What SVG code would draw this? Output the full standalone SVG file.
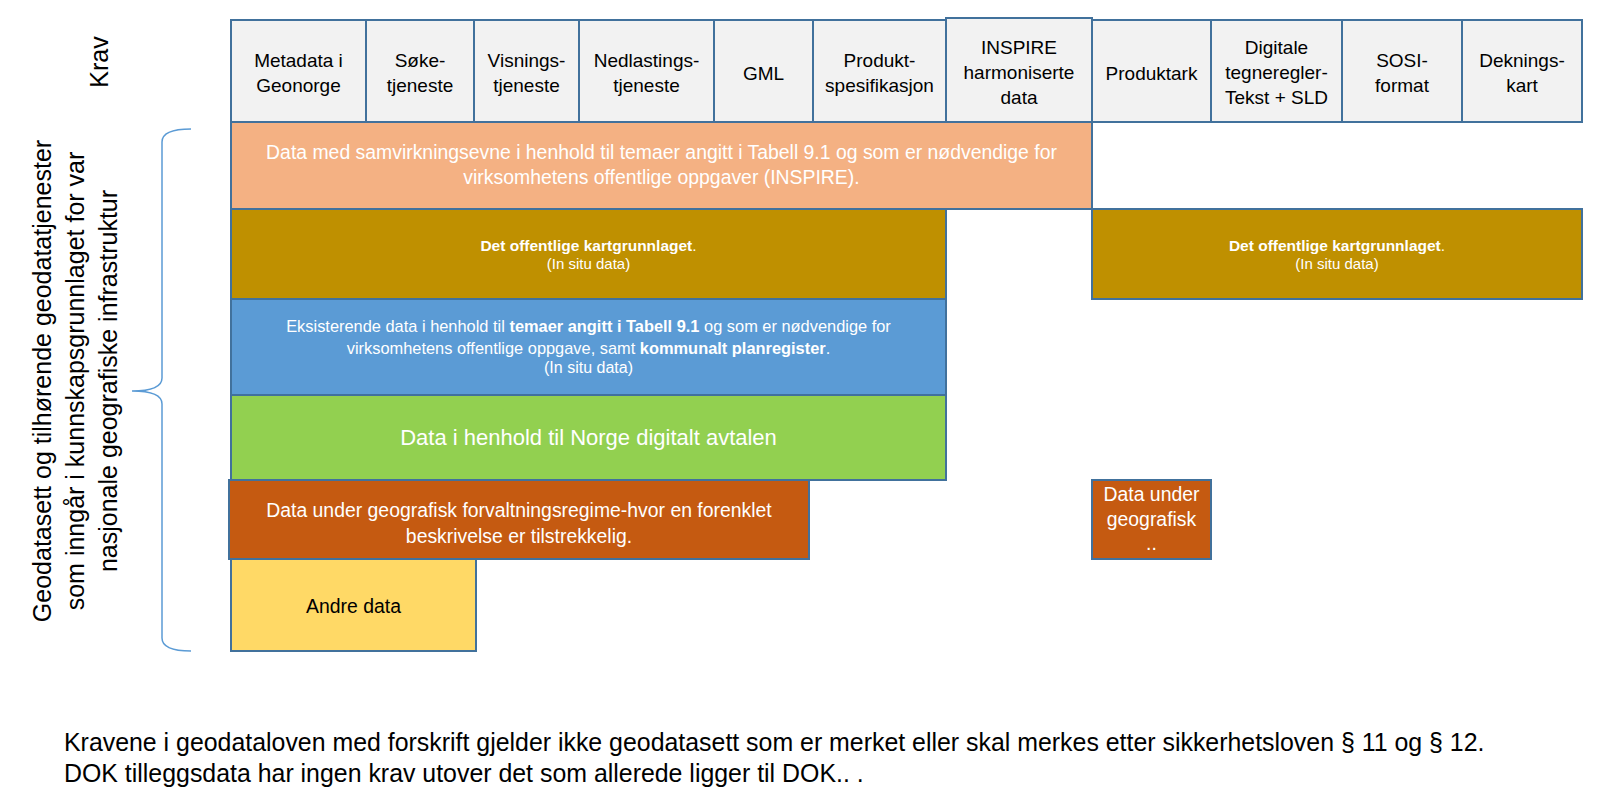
<svg xmlns="http://www.w3.org/2000/svg" width="1622" height="810" viewBox="0 0 1622 810">
<style>
  text { font-family: "Liberation Sans", Arial, sans-serif; }
  .hdr { fill: #F2F2F2; stroke: #41719C; stroke-width: 2; }
  .box { stroke: #41719C; stroke-width: 2; }
  .ht { font-size: 19px; fill: #000; text-anchor: middle; }
  .wt { fill: #FFFFFF; text-anchor: middle; }
  .bt { fill: #000; text-anchor: middle; }
  .side { font-size: 25px; fill: #000; text-anchor: middle; }
  .note { font-size: 24.9px; fill: #000; }
  .b { font-weight: bold; }
</style>
<rect width="1622" height="810" fill="#FFFFFF"/>

<g id="krav-label">
  <text class="side" font-size="24" transform="translate(108,62) rotate(-90)">Krav</text>
</g>

<g id="side-label">
  <text class="side" transform="translate(51,381) rotate(-90)">Geodatasett og tilhørende geodatatjenester</text>
  <text class="side" transform="translate(84,381) rotate(-90)">som inngår i kunnskapsgrunnlaget for var</text>
  <text class="side" transform="translate(117,381) rotate(-90)">nasjonale geografiske infrastruktur</text>
</g>

<g id="bracket">
  <path d="M191,129 Q162,129 162,142 L162,378 Q162,391 132,391 Q162,391 162,404 L162,638 Q162,651 191,651" fill="none" stroke="#5B9BD5" stroke-width="1.5"/>
</g>

<g id="hdr-metadata">
  <rect class="hdr" x="231" y="20" width="135" height="102"/>
  <text class="ht" x="298.5" y="67">Metadata i</text>
  <text class="ht" x="298.5" y="92">Geonorge</text>
</g>
<g id="hdr-soke">
  <rect class="hdr" x="366" y="20" width="108" height="102"/>
  <text class="ht" x="420" y="67">Søke-</text>
  <text class="ht" x="420" y="92">tjeneste</text>
</g>
<g id="hdr-visnings">
  <rect class="hdr" x="474" y="20" width="105" height="102"/>
  <text class="ht" x="526.5" y="67">Visnings-</text>
  <text class="ht" x="526.5" y="92">tjeneste</text>
</g>
<g id="hdr-nedlastings">
  <rect class="hdr" x="579" y="20" width="135" height="102"/>
  <text class="ht" x="646.5" y="67">Nedlastings-</text>
  <text class="ht" x="646.5" y="92">tjeneste</text>
</g>
<g id="hdr-gml">
  <rect class="hdr" x="714" y="20" width="99" height="102"/>
  <text class="ht" x="763.5" y="79.5">GML</text>
</g>
<g id="hdr-produktspesifikasjon">
  <rect class="hdr" x="813" y="20" width="133" height="102"/>
  <text class="ht" x="879.5" y="67">Produkt-</text>
  <text class="ht" x="879.5" y="92">spesifikasjon</text>
</g>
<g id="hdr-inspire">
  <rect class="hdr" x="946" y="18" width="146" height="104"/>
  <text class="ht" x="1019" y="54">INSPIRE</text>
  <text class="ht" x="1019" y="79">harmoniserte</text>
  <text class="ht" x="1019" y="104">data</text>
</g>
<g id="hdr-produktark">
  <rect class="hdr" x="1092" y="20" width="119" height="102"/>
  <text class="ht" x="1151.5" y="79.5">Produktark</text>
</g>
<g id="hdr-digitale">
  <rect class="hdr" x="1211" y="20" width="131" height="102"/>
  <text class="ht" x="1276.5" y="54">Digitale</text>
  <text class="ht" x="1276.5" y="79">tegneregler-</text>
  <text class="ht" x="1276.5" y="104">Tekst + SLD</text>
</g>
<g id="hdr-sosi">
  <rect class="hdr" x="1342" y="20" width="120" height="102"/>
  <text class="ht" x="1402" y="67">SOSI-</text>
  <text class="ht" x="1402" y="92">format</text>
</g>
<g id="hdr-deknings">
  <rect class="hdr" x="1462" y="20" width="120" height="102"/>
  <text class="ht" x="1522" y="67">Deknings-</text>
  <text class="ht" x="1522" y="92">kart</text>
</g>

<g id="box-inspire">
  <rect class="box" x="231" y="122" width="861" height="87" fill="#F4B183"/>
  <text class="wt" font-size="19.4" x="661.5" y="159">Data med samvirkningsevne i henhold til temaer angitt i Tabell 9.1 og som er nødvendige for</text>
  <text class="wt" font-size="19.4" x="661.5" y="184">virksomhetens offentlige oppgaver (INSPIRE).</text>
</g>

<g id="box-kartgrunnlag-left">
  <rect class="box" x="231" y="209" width="715" height="90" fill="#BF9000"/>
  <text class="wt" font-size="15.5" x="588.5" y="251"><tspan class="b">Det offentlige kartgrunnlaget</tspan>.</text>
  <text class="wt" font-size="15" x="588.5" y="269">(In situ data)</text>
</g>

<g id="box-kartgrunnlag-right">
  <rect class="box" x="1092" y="209" width="490" height="90" fill="#BF9000"/>
  <text class="wt" font-size="15.5" x="1337" y="251"><tspan class="b">Det offentlige kartgrunnlaget</tspan>.</text>
  <text class="wt" font-size="15" x="1337" y="269">(In situ data)</text>
</g>

<g id="box-eksisterende">
  <rect class="box" x="231" y="299" width="715" height="96" fill="#5B9BD5"/>
  <text class="wt" font-size="16.4" x="588.5" y="332">Eksisterende data i henhold til <tspan class="b">temaer angitt i Tabell 9.1</tspan> og som er nødvendige for</text>
  <text class="wt" font-size="16.4" x="588.5" y="354">virksomhetens offentlige oppgave, samt <tspan class="b">kommunalt planregister</tspan>.</text>
  <text class="wt" font-size="16" x="588.5" y="373">(In situ data)</text>
</g>

<g id="box-norge-digitalt">
  <rect class="box" x="231" y="395" width="715" height="85" fill="#92D050"/>
  <text class="wt" font-size="22" x="588.5" y="445">Data i henhold til Norge digitalt avtalen</text>
</g>

<g id="box-forvaltningsregime">
  <rect class="box" x="229" y="480" width="580" height="79" fill="#C55A11"/>
  <text class="wt" font-size="19.4" x="519" y="517">Data under geografisk forvaltningsregime-hvor en forenklet</text>
  <text class="wt" font-size="19.4" x="519" y="543">beskrivelse er tilstrekkelig.</text>
</g>

<g id="box-forvaltningsregime-small">
  <rect class="box" x="1092" y="480" width="119" height="79" fill="#C55A11"/>
  <text class="wt" font-size="19.4" x="1151.5" y="501">Data under</text>
  <text class="wt" font-size="19.4" x="1151.5" y="526">geografisk</text>
  <text class="wt" font-size="19.4" x="1151.5" y="550">..</text>
</g>

<g id="box-andre">
  <rect class="box" x="231" y="559" width="245" height="92" fill="#FFD966"/>
  <text class="bt" font-size="19.4" x="353.5" y="613">Andre data</text>
</g>

<g id="note">
  <text class="note" x="64" y="751">Kravene i geodataloven med forskrift gjelder ikke geodatasett som er merket eller skal merkes etter sikkerhetsloven § 11 og § 12.</text>
  <text class="note" x="64" y="782">DOK tilleggsdata har ingen krav utover det som allerede ligger til DOK.. .</text>
</g>
</svg>
